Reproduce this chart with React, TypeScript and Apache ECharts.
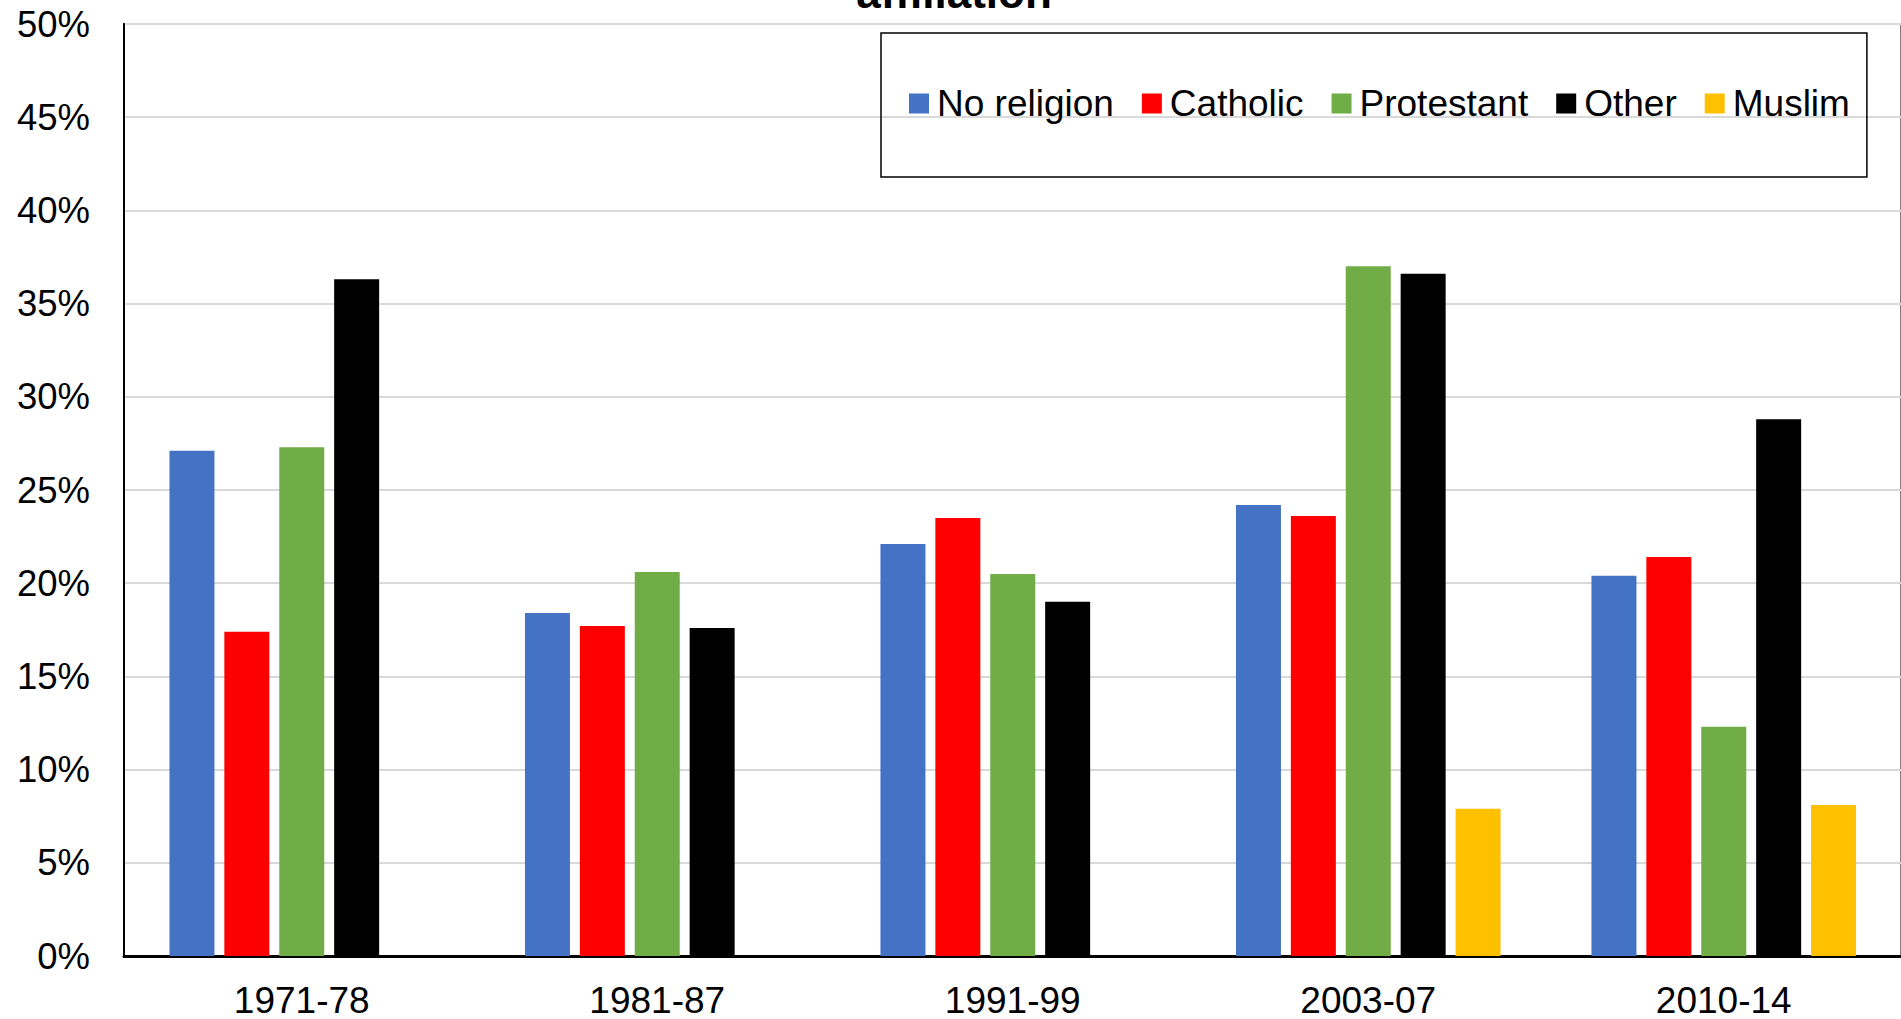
import React, { useEffect, useRef } from "react";
import * as echarts from "echarts";

const categories = ["1971-78", "1981-87", "1991-99", "2003-07", "2010-14"];
const noReligion = [27.1, 18.4, 22.1, 24.2, 20.4];
const catholic = [17.4, 17.7, 23.5, 23.6, 21.4];
const protestant = [27.3, 20.6, 20.5, 37.0, 12.3];
const other = [36.3, 17.6, 19.0, 36.6, 28.8];
const muslim = [null, null, null, 7.9, 8.1];
const seriesNames = ["No religion", "Catholic", "Protestant", "Other", "Muslim"];
const seriesColors = ["#4472C4", "#FF0000", "#70AD47", "#000000", "#FFC000"];
const titleText = "affiliation";

const FONT = "'Liberation Sans', Arial, sans-serif";

export default function App() {
  const ref = useRef<HTMLDivElement>(null);
  useEffect(() => {
    if (!ref.current) return;
    const chart = echarts.init(ref.current, null, { renderer: "svg" });
    const dataSets = [noReligion, catholic, protestant, other, muslim];
    chart.setOption({
      animation: false,
      backgroundColor: "#ffffff",
      textStyle: { fontFamily: FONT, color: "#000" },
      graphic: [
        {
          type: "text",
          x: 954,
          y: 14,
          style: {
            text: titleText,
            font: `bold 44px ${FONT}`,
            fill: "#000",
            align: "center",
            verticalAlign: "bottom",
          },
        },
      ],
      legend: {
        left: 881,
        top: 33,
        padding: [52, 17, 55, 28],
        borderColor: "#000",
        borderWidth: 1.5,
        itemWidth: 20,
        itemHeight: 20,
        itemGap: 28,
        icon: "rect",
        textStyle: { fontSize: 37, fontFamily: FONT, color: "#000", padding: [0, 0, 0, 3] },
        data: seriesNames,
      },
      grid: {
        left: 124,
        top: 24,
        width: 1777.5,
        bottom: 1019 - 956,
        outerBoundsMode: "none",
        containLabel: false,
        show: true,
        borderColor: "#000",
        borderWidth: 2,
        backgroundColor: "transparent",
      },
      xAxis: {
        type: "category",
        data: categories,
        axisTick: { show: false },
        axisLine: { lineStyle: { color: "#000", width: 3 } },
        axisLabel: {
          fontSize: 37,
          lineHeight: 30,
          color: "#000",
          fontFamily: FONT,
          margin: 29,
        },
      },
      yAxis: {
        type: "value",
        min: 0,
        max: 50,
        interval: 5,
        axisLine: { show: true, lineStyle: { color: "#000", width: 2 } },
        axisTick: { show: false },
        axisLabel: {
          fontSize: 36.5,
          color: "#000",
          fontFamily: FONT,
          margin: 34,
          formatter: "{value}%",
        },
        splitLine: { lineStyle: { color: "#d9d9d9", width: 2 } },
      },
      series: seriesNames.map((name, i) => ({
        name,
        type: "bar",
        data: dataSets[i],
        barWidth: 45,
        barGap: "22%",
        itemStyle: { color: seriesColors[i] },
      })),
    });
    return () => chart.dispose();
  }, []);
  return (
    <div
      ref={ref}
      style={{ position: "fixed", left: 0, top: 0, width: 1901, height: 1019 }}
    />
  );
}
